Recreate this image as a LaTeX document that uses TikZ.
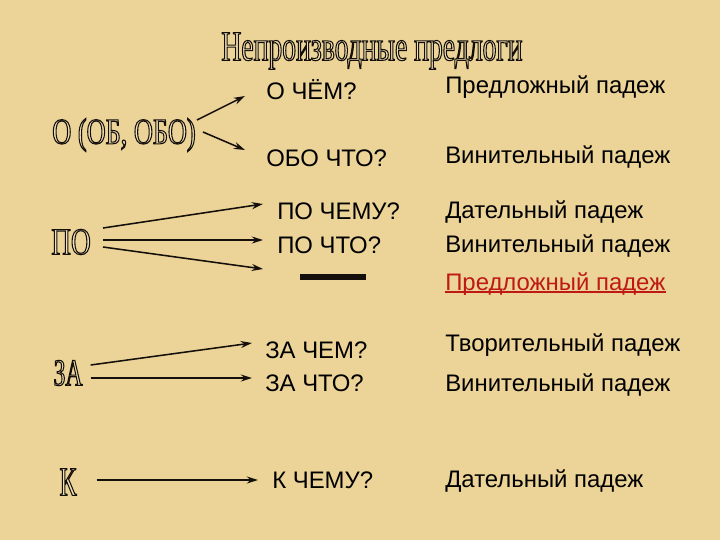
\documentclass[tikz,border=0pt]{standalone}
\usepackage{fontspec}
\setmainfont{Liberation Sans}
\newfontfamily\titlefont[FakeStretch=0.655]{Liberation Serif}
\newfontfamily\prepfont[FakeStretch=0.62]{Liberation Serif}
\newfontfamily\prepwide[FakeStretch=0.72]{Liberation Serif}
\usepackage{tikz}
\usetikzlibrary{
    arrows.meta,
    calc
}
\definecolor{Paper}{RGB}{236, 212, 152}
\definecolor{Pale}{RGB}{242, 226, 180}
\definecolor{Ink}{RGB}{20, 15, 10}
\definecolor{Rred}{RGB}{190, 25, 20}
% контурные буквы: заливка светлым, обводка тёмным
\newcommand\outl[1]{\special{pdf:literal direct 2 Tr 0.75 w 0.08 0.06 0.04 RG}#1\special{pdf:literal direct 0 Tr}}
\tikzset{
    ttl/.style={
        inner sep=0pt, text=Pale, font=\titlefont\fontsize{30}{32}\selectfont
    },
    prep/.style={
        inner sep=0pt, text=Pale, font=\prepfont\fontsize{27}{29}\selectfont
    },
    ques/.style={
        anchor=west, inner sep=0pt, text=black, font=\fontsize{17}{19}\selectfont
    },
    pcase/.style={
        anchor=west, inner sep=0pt, text=black, font=\fontsize{17}{19}\selectfont
    },
    parr/.style={-{Stealth[length=8pt, width=5pt]}, line width=1.1pt, Ink},
}

\begin{document}
\begin{tikzpicture}[x=0.025cm, y=-0.025cm]

    % ── фон ──────────────────────────────────────────
    \fill [Paper] (0,0) rectangle (720,540);
    \useasboundingbox (0,0) rectangle (720,540);

    % ── заголовок ────────────────────────────────────
    \node [ttl] (title) at (372,51) {\outl{Непроизводные предлоги}};

    % ── О (ОБ, ОБО) ──────────────────────────────────
    \node [prep, font=\prepwide\fontsize{26}{28}\selectfont] (o) at (124,135) {\outl{О (ОБ, ОБО)}};
    \node [ques] (ochem) at (266,90) {О ЧЁМ?};
    \node [ques] (obochto) at (266,158) {ОБО ЧТО?};
    \node [pcase] (c1) at (445,87) {Предложный падеж};
    \node [pcase] (c2) at (445,157) {Винительный падеж};

    \draw [parr] ($(o.east)+(1,-15)$) -- ($(ochem.west)+(-21,6)$);
    \draw [parr] ($(o.east)+(7,-3)$) -- ($(obochto.west)+(-21,-8)$);

    % ── ПО ───────────────────────────────────────────
    \node [prep, font=\prepwide\fontsize{27}{29}\selectfont] (po) at (71,242) {\outl{ПО}};
    \node [ques] (pochemu) at (277,211) {ПО ЧЕМУ?};
    \node [ques] (pochto) at (277,245) {ПО ЧТО?};
    \node [pcase] (c3) at (445,212) {Дательный падеж};
    \node [pcase] (c4) at (445,246) {Винительный падеж};
    \node [pcase, text=Rred] (c5) at (445,284) {Предложный падеж};
    \draw [Rred, line width=0.9pt] ([yshift=-1.2pt]c5.base west) -- ([yshift=-1.2pt]c5.base east);

    \coordinate (nil) at (263,269);
    \coordinate (bl) at (300,277);
    \coordinate (br) at (366,277);
    \draw [line width=3.6pt, Ink] (bl) -- (br);

    \draw [parr] ($(po.east)+(12,-14)$) -- ($(pochemu.west)+(-14,-7)$);
    \draw [parr] ($(po.east)+(12,-2)$) -- ($(pochto.west)+(-14,-5)$);
    \draw [parr] ($(po.east)+(12,5)$) -- (nil);

    % ── ЗА ───────────────────────────────────────────
    \node [prep] (za) at (68,373) {\outl{ЗА}};
    \node [ques] (zachem) at (265,350) {ЗА ЧЕМ?};
    \node [ques] (zachto) at (265,383) {ЗА ЧТО?};
    \node [pcase] (c6) at (445,345) {Творительный падеж};
    \node [pcase] (c7) at (445,385) {Винительный падеж};

    \draw [parr] ($(za.east)+(8,-8)$) -- ($(zachem.west)+(-13,-7)$);
    \draw [parr] ($(za.east)+(8,5)$) -- ($(zachto.west)+(-13,-5)$);

    % ── К ────────────────────────────────────────────
    \node [prep, font=\prepfont\fontsize{29}{31}\selectfont] (k) at (68,482) {\outl{К}};
    \node [ques] (kchemu) at (272,480) {К ЧЕМУ?};
    \node [pcase] (c8) at (445,481) {Дательный падеж};

    \draw [parr] ($(k.east)+(20,-2)$) -- ($(kchemu.west)+(-14,0)$);

\end{tikzpicture}
\end{document}
